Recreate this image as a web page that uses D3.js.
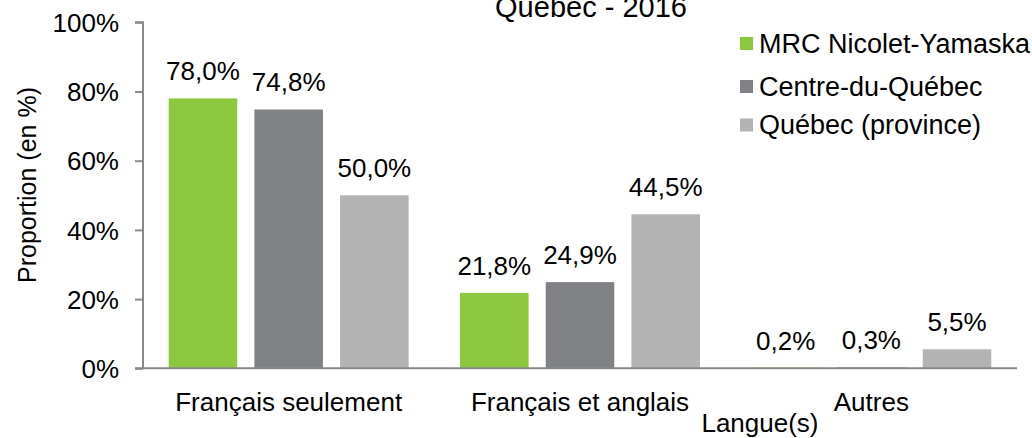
<!DOCTYPE html>
<html>
<head>
<meta charset="utf-8">
<script src="https://cdn.jsdelivr.net/npm/d3@7"></script>
<style>
  html, body { margin: 0; padding: 0; background: #fff; }
  svg { display: block; font-family: "Liberation Sans", Arial, sans-serif; }
</style>
</head>
<body>
<svg id="chart" width="1032" height="438"></svg>
<script>
const categories = ["Français seulement", "Français et anglais", "Autres"];
const seriesNames = ["MRC Nicolet-Yamaska", "Centre-du-Québec", "Québec (province)"];
const mrcValues = [78.0, 21.8, 0.2];
const cdqValues = [74.8, 24.9, 0.3];
const qcValues = [50.0, 44.5, 5.5];
const yTicks = [0, 20, 40, 60, 80, 100];
const colors = ["#8dc63f", "#808184", "#b3b3b3"];
const titleText = "Québec - 2016";
const yTitle = "Proportion (en %)";
const xTitle = "Langue(s)";

const seriesValues = [mrcValues, cdqValues, qcValues];
const svg = d3.select("#chart");
const axisColor = "#898989";

const x0 = d3.scaleBand().domain(categories).range([143, 1017]).paddingInner(0).paddingOuter(0);
const x1 = d3.scaleBand().domain(seriesNames).range([0, x0.bandwidth()]).paddingInner(0.2).paddingOuter(0.3);
const y = d3.scaleLinear().domain([0, 100]).range([368.3, 22.3]);

const loc = d3.formatLocale({decimal: ",", thousands: " ", grouping: [3], currency: ["", "$"]});
const fmtVal = v => loc.format(".1f")(v) + "%";

// bars
const groups = svg.append("g").selectAll("g").data(categories).join("g")
  .attr("transform", d => `translate(${x0(d)},0)`);
groups.each(function(cat, ci) {
  const g = d3.select(this);
  const data = seriesNames.map((s, si) => ({s, si, v: seriesValues[si][ci]}));
  g.selectAll("rect").data(data).join("rect")
    .attr("x", d => x1(d.s))
    .attr("width", x1.bandwidth())
    .attr("y", d => y(d.v))
    .attr("height", d => y(0) - y(d.v))
    .attr("fill", d => colors[d.si]);
  g.selectAll("text").data(data).join("text")
    .attr("x", d => x1(d.s) + x1.bandwidth() / 2)
    .attr("y", d => y(d.v) - 18)
    .attr("text-anchor", "middle")
    .attr("font-size", 26)
    .attr("fill", "#000")
    .text(d => fmtVal(d.v));
});

// y axis
const yAxis = d3.axisLeft(y).tickValues(yTicks).tickSize(8).tickPadding(16).tickFormat(d => d + "%");
const yg = svg.append("g").attr("transform", "translate(143,0)").call(yAxis);
yg.select(".domain").attr("stroke", axisColor).attr("stroke-width", 2).attr("d", `M-8,${y(100)}H0V${y(0)}`);
yg.selectAll(".tick line").attr("stroke", axisColor).attr("stroke-width", 2);
yg.selectAll(".tick text").attr("font-size", 26).attr("fill", "#000")
  .attr("font-family", "Liberation Sans, Arial, sans-serif").attr("dy", "0.35em");

// x axis
const xAxis = d3.axisBottom(x0).tickSize(0).tickPadding(24);
const xg = svg.append("g").attr("transform", `translate(0,${y(0)})`).call(xAxis);
xg.select(".domain").attr("stroke", axisColor).attr("stroke-width", 2).attr("d", `M135,0H1017`);
xg.selectAll(".tick text").attr("font-size", 26).attr("fill", "#000")
  .attr("font-family", "Liberation Sans, Arial, sans-serif");

// titles
svg.append("text").attr("x", 591).attr("y", 17).attr("text-anchor", "middle")
  .attr("font-size", 29).attr("fill", "#000").text(titleText);
svg.append("text").attr("transform", "translate(36,185) rotate(-90)").attr("text-anchor", "middle")
  .attr("font-size", 25).attr("fill", "#000").text(yTitle);
svg.append("text").attr("x", 760).attr("y", 432).attr("text-anchor", "middle")
  .attr("font-size", 26).attr("fill", "#000").text(xTitle);

// legend
const legendY = [43.5, 86.5, 125];
const lg = svg.append("g").selectAll("g").data(seriesNames).join("g")
  .attr("transform", (d, i) => `translate(740,${legendY[i]})`);
lg.append("rect").attr("x", 0).attr("y", -6.5).attr("width", 13).attr("height", 13)
  .attr("fill", (d, i) => colors[i]);
lg.append("text").attr("x", 19).attr("y", 0).attr("dy", "0.35em")
  .attr("font-size", 27).attr("fill", "#000").text(d => d);
</script>
</body>
</html>
